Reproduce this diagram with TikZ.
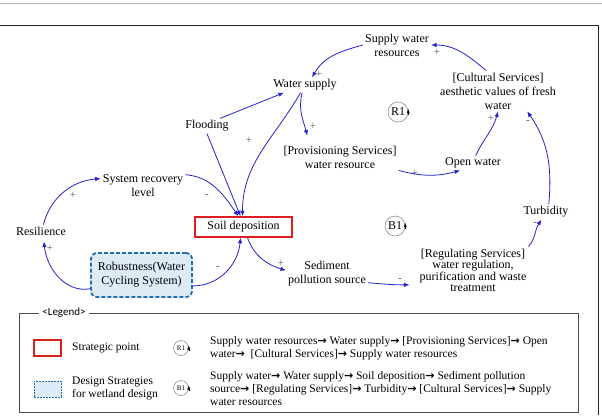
\documentclass[tikz,border=0pt]{standalone}
\usepackage{fontspec}
\setmainfont{Liberation Serif}
\newfontfamily\legfont{Carlito}
\newfontfamily\arrfont{DejaVu Sans}
\usetikzlibrary{arrows.meta}
\definecolor{arrblue}{RGB}{35,35,200}
\definecolor{robline}{RGB}{30,110,180}
\definecolor{robfill}{RGB}{221,235,247}
\definecolor{stratred}{RGB}{220,30,30}
\newcommand{\rto}{{\arrfont\bfseries\fontsize{11}{11}\selectfont →}}
\begin{document}
\begin{tikzpicture}[x=1pt,y=-1pt,
  lbl/.style={font=\fontsize{12}{14}\selectfont, align=center, inner sep=2pt},
  arr/.style={draw=arrblue, line width=0.8pt, -{Latex[length=5.5pt,width=4.5pt]}},
  sgn/.style={font=\fontsize{11}{11}\selectfont, text=gray!70!black, inner sep=0pt},
  loopc/.style={circle, draw=gray, line width=0.5pt, inner sep=0pt, minimum size=20pt, font=\fontsize{12}{12}\selectfont},
  loopa/.style={-{Latex[length=4pt,width=3pt]}, black, line width=0.4pt},
  legtxt/.style={anchor=west, align=left, inner sep=0pt, font=\fontsize{11.5}{13}\selectfont}]
\useasboundingbox (0,0) rectangle (602,415);
% frame
\draw[gray!60, line width=1pt] (0,3) -- (602,3);
\draw[black!85, line width=1pt] (0,25) -- (598,25) -- (598,415);

% nodes
\node[lbl] (sw) at (397,45) {Supply water\\resources};
\node[lbl] (ws) at (305,85) {Water supply};
\node[lbl] (fl) at (207,126) {Flooding};
\node[lbl] (ps) at (340,157) {[Provisioning Services]\\water resource};
\node[lbl] (cs) at (498,91) {[Cultural Services]\\aesthetic values of fresh\\water};
\node[lbl] (ow) at (473,163) {Open water};
\node[lbl] (sr) at (143,186) {System recovery\\level};
\node[lbl] (re) at (41,231) {Resilience};
\node[lbl, draw=stratred, line width=1.5pt, minimum width=97pt, minimum height=20pt] (sd) at (243.5,227) {Soil deposition};
\node[lbl, draw=robline, fill=robfill, line width=1.8pt, dash pattern=on 4pt off 2pt, rounded corners=6pt, minimum width=101pt, minimum height=44pt] (rb) at (141.5,275) {Robustness(Water\\Cycling System)};
\node[lbl] (sp) at (327,274) {Sediment\\pollution source};
\node[lbl, font=\fontsize{12}{11}\selectfont] (rg) at (473,270) {[Regulating Services]\\water regulation,\\purification and waste\\treatment};
\node[lbl] (tb) at (546,212) {Turbidity};

% loop symbols
\node[loopc] (R1) at (398,112) {R1};
\draw[loopa] ([yshift=-3pt]R1.east) -- ([yshift=3pt]R1.east);
\node[loopc] (B1) at (395,226) {B1};
\draw[loopa] ([yshift=-3pt]B1.east) -- ([yshift=3pt]B1.east);

% connectors
\draw[arr] (sw.west) to[out=195,in=60] ([xshift=7pt]ws.north);
\draw[arr] (ws.250) to[out=255,in=105] ([xshift=26pt,yshift=8pt]ps.north west);
\draw[arr] (ps.south east) to[out=-15,in=195] (ow.210);
\draw[arr] (ow.70) to[out=65,in=255] (cs.south);
\draw[arr] (cs.120) to[out=140,in=0] (sw.east);
\draw[arr] (tb.70) to[out=85,in=305] (cs.-35);
\draw[arr] (rg.north east) to[out=50,in=235] (tb.240);
\draw[arr] (sp.-12) to[out=-5,in=180] ([xshift=-8pt]rg.195);
\draw[arr] ([xshift=4pt]sd.south) to[out=-70,in=163] (sp.175);
\draw[arr] (fl.30) -- (ws.200);
\draw[arr] (fl.south) -- ([xshift=-3pt]sd.north);
\draw[arr] (ws.240) to[out=240,in=90] ([xshift=-1pt]sd.north);
\draw[arr] (sr.15) to[out=-5,in=125] ([xshift=-5pt]sd.north);
\draw[arr] (rb.-12) to[out=0,in=265] ([xshift=-3pt]sd.south);
\draw[arr] (re.70) to[out=75,in=185] (sr.170);
\draw[arr] (rb.195) to[out=190,in=275] ([xshift=3pt,yshift=-4pt]re.south);

% signs
\node[sgn] (s1) at (319,74) {+};
\node[sgn] (s2) at (313,126) {+};
\node[sgn] (s3) at (415,173) {+};
\node[sgn] (s4) at (491,118) {+};
\node[sgn] (s5) at (437,52) {+};
\node[sgn] (s6) at (528,122) {-};
\node[sgn] (s7) at (535,224) {-};
\node[sgn] (s8) at (400,280) {-};
\node[sgn] (s9) at (281,263) {+};
\node[sgn] (s12) at (249,140) {+};
\node[sgn] (s13) at (207,196) {-};
\node[sgn] (s14) at (218,268) {-};
\node[sgn] (s15) at (73,195) {+};
\node[sgn] (s16) at (50,248) {+};

% legend
\draw[black!70, line width=0.8pt] (19,313) rectangle (578,412);
\node[fill=white, inner sep=3pt, font=\legfont\fontsize{11}{12}\selectfont] (legt) at (64,313) {<Legend>};
\node[draw=stratred, line width=1.6pt, minimum width=27pt, minimum height=16pt, inner sep=0pt] (lred) at (47.5,348) {};
\node[legtxt] (lredt) at (72,348) {Strategic point};
\node[draw=robline, fill=robfill, line width=0.7pt, dash pattern=on 2pt off 1pt, minimum width=27pt, minimum height=16pt, inner sep=0pt] (lblue) at (47.5,389) {};
\node[legtxt] (lbluet) at (72,388) {Design Strategies\\for wetland design};
\node[loopc, minimum size=15pt, font=\fontsize{7}{7}\selectfont] (lR1) at (181,348) {R1};
\draw[loopa] ([yshift=-2.5pt]lR1.east) -- ([yshift=2.5pt]lR1.east);
\node[loopc, minimum size=15pt, font=\fontsize{7}{7}\selectfont] (lB1) at (181,388) {B1};
\draw[loopa] ([yshift=-2.5pt]lB1.east) -- ([yshift=2.5pt]lB1.east);
\node[legtxt] (lR1t) at (210,348.5) {Supply water resources\rto{} Water supply\rto{} [Provisioning Services]\rto{} Open\\water\rto{}~ [Cultural Services]\rto{} Supply water resources};
\node[legtxt] (lB1t) at (210,388.5) {Supply water\rto{} Water supply\rto{} Soil deposition\rto{} Sediment pollution\\source\rto{} [Regulating Services]\rto{} Turbidity\rto{} [Cultural Services]\rto{} Supply\\water resources};
\end{tikzpicture}
\end{document}
